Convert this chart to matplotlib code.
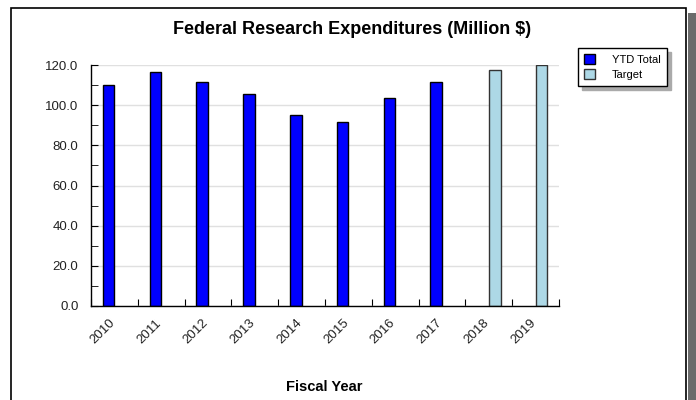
import matplotlib
matplotlib.use("Agg")
import matplotlib.pyplot as plt
import matplotlib.transforms as mtransforms
import numpy as np
from matplotlib.patches import Rectangle
from matplotlib.ticker import FormatStrFormatter, MultipleLocator

plt.rcParams["font.family"] = ["Liberation Sans", "DejaVu Sans"]

years = ["2010", "2011", "2012", "2013", "2014", "2015", "2016", "2017", "2018", "2019"]
ytd_total = [110.3, 116.7, 111.5, 105.9, 95.2, 91.7, 103.7, 111.5]
target = [117.9, 120.0]
target_years = ["2018", "2019"]

W, H = 696, 400
fig = plt.figure(figsize=(W / 100, H / 100), dpi=100)
fig.patch.set_facecolor("white")

# white panel with a black frame and a grey drop shadow on the right
fig.patches.append(Rectangle((688 / W, 0), 8 / W, 1 - 13 / H, transform=fig.transFigure,
                             facecolor="#6b6b6b", edgecolor="none", zorder=-2))
fig.patches.append(Rectangle((11 / W, -0.05), (686 - 11) / W, 1.05 - 8 / H,
                             transform=fig.transFigure, facecolor="white",
                             edgecolor="black", linewidth=1.2, zorder=-1))

ax = fig.add_axes([91 / W, 1 - 305.7 / H, (559 - 91) / W, (305.7 - 65.3) / H])
ax.set_facecolor("none")

x = np.arange(len(years))
bw = 0.25
ax.bar(x[:len(ytd_total)] - bw / 2, ytd_total, width=bw, color="#0000ff",
       edgecolor="black", linewidth=1.0, zorder=3, label="YTD Total")
tx = np.array([years.index(y) for y in target_years])
ax.bar(tx + bw / 2, target, width=bw, color="#add8e6",
       edgecolor="#333333", linewidth=1.0, zorder=3, label="Target")

ax.set_xlim(-0.5, len(years) - 0.5)
ax.set_ylim(0, 120)

# category boundaries get the tick marks, centres get the labels
ax.set_xticks(np.arange(-0.5, len(years), 1.0))
ax.set_xticklabels([])
ax.set_xticks(x, years, minor=True)
ax.tick_params(axis="x", which="major", direction="in", length=5, color="black")
ax.tick_params(axis="x", which="minor", length=0, pad=6, labelsize=9.5,
               labelcolor="#222222")
nudge = mtransforms.ScaledTranslation(-6 / 100, -3 / 100, fig.dpi_scale_trans)
for lbl in ax.get_xticklabels(minor=True):
    lbl.set_rotation(45)
    lbl.set_ha("right")
    lbl.set_rotation_mode("anchor")
    lbl.set_transform(lbl.get_transform() + nudge)

ax.yaxis.set_major_locator(MultipleLocator(20))
ax.yaxis.set_minor_locator(MultipleLocator(10))
ax.yaxis.set_major_formatter(FormatStrFormatter("%.1f"))
ax.tick_params(axis="y", which="both", direction="in", length=5, color="black",
               labelsize=9.5, labelcolor="#222222", pad=9)

ax.yaxis.grid(True, which="major", color="#e0e0e0", linewidth=1.0, zorder=0)
ax.set_axisbelow(True)
for side in ("top", "right"):
    ax.spines[side].set_visible(False)
for side in ("left", "bottom"):
    ax.spines[side].set_linewidth(1.0)
    ax.spines[side].set_zorder(4)

fig.text(352 / W, 1 - 29 / H, "Federal Research Expenditures (Million $)",
         ha="center", va="center", fontsize=13, fontweight="bold")
fig.text(324 / W, 1 - 387 / H, "Fiscal Year", ha="center", va="center",
         fontsize=10.5, fontweight="bold")

leg = fig.legend(loc="upper left", bbox_to_anchor=(578 / W, 1 - 48 / H),
                 fontsize=8, frameon=True, fancybox=False, framealpha=1,
                 edgecolor="black", handlelength=1.0, handleheight=1.0,
                 handletextpad=1.5, labelspacing=0.36, borderpad=0.55,
                 borderaxespad=0,
                 shadow={"ox": 3, "oy": -3, "color": "#aaaaaa", "alpha": 1})
leg.get_frame().set_linewidth(1.0)
leg.set_zorder(5)

fig.savefig("out.png", dpi=100)
